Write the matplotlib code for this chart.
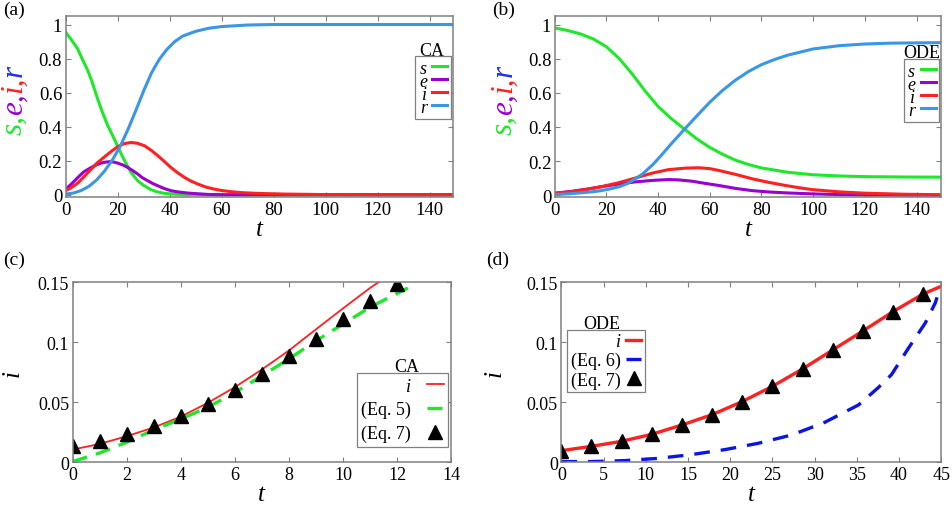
import matplotlib
matplotlib.use("Agg")
import matplotlib.pyplot as plt

plt.rcParams["font.family"] = ["Liberation Serif", "DejaVu Serif"]

# colours
c_s = "#1fe82a"
c_e = "#9a00d0"
c_i = "#ff2020"
c_r = "#3a96e6"
c_eq6 = "#0a14e6"
grey = "#808080"

# (a) CA model
sa_t = [0, 2, 4.6, 6, 8.5, 10, 12.3, 14, 16.2, 18, 20, 22, 23.9, 25, 27.7, 30, 32.8, 35, 38, 42, 46, 150]
sa_v = [.955, .915, .857, .81, .73, .67, .563, .49, .406, .35, .285, .22, .165, .135, .082, .055, .03, .018, .008, .003, 0, 0]
ea_t = [0, 2, 4.6, 7, 9.8, 12, 13.6, 15.5, 16.8, 18.5, 20, 22, 23.9, 25.8, 27.7, 29.5, 31.6, 33.5, 35.4, 38, 40.5, 43, 46.9, 54.6, 60, 150]
ea_v = [.033, .06, .10, .135, .16, .177, .186, .192, .194, .192, .186, .175, .16, .142, .122, .10, .082, .066, .053, .036, .024, .017, .01, .002, 0, 0]
ia_t = [0, 2, 4.6, 7, 9.8, 12, 14.9, 17.5, 20, 22.5, 25.1, 27.5, 30.3, 33, 35.4, 38, 40.5, 43, 45.7, 48, 50.8, 54, 57.2, 60, 63.6, 68, 73.9, 84, 100, 150]
ia_v = [.024, .04, .068, .105, .15, .185, .222, .254, .282, .3, .307, .303, .288, .26, .23, .195, .16, .13, .102, .082, .063, .045, .033, .025, .018, .012, .008, .004, .001, 0]
ra_t = [0, 3, 6, 9, 12, 15, 18, 21, 24, 27, 30, 33, 36, 39, 42, 45, 50, 55, 60, 70, 80, 150]
ra_v = [.004, .01, .025, .05, .088, .14, .205, .285, .385, .495, .61, .715, .795, .855, .9, .932, .96, .978, .988, .997, 1.0, 1.0]

# (b) ODE model
sb_t = [0, 5, 10, 15, 20, 25, 30, 35, 40, 45, 50, 55, 60, 65, 70, 75, 80, 90, 100, 110, 120, 135, 150]
sb_v = [.98, .965, .945, .915, .87, .80, .71, .61, .52, .45, .39, .33, .28, .24, .205, .18, .16, .135, .12, .113, .109, .107, .106]
eb_t = [0, 6, 12, 18, 24.9, 31, 37.8, 44.2, 48, 53.3, 58, 63.6, 70, 76.5, 83, 89.4, 99.7, 110, 120, 135, 150]
eb_v = [.012, .022, .035, .05, .066, .078, .087, .092, .09, .082, .07, .057, .04, .027, .019, .014, .008, .004, .002, .001, 0]
ib_t = [0, 6, 12, 18, 24.9, 31, 37.8, 44, 50.7, 55.8, 60, 63.6, 70, 76.5, 83, 89.4, 95, 99.7, 110, 120, 135, 150]
ib_v = [.012, .02, .033, .05, .074, .10, .13, .15, .159, .161, .156, .145, .122, .096, .075, .057, .043, .033, .02, .012, .006, .003]
rb_t = [0, 5, 10, 15, 18, 21, 25, 28, 31, 34, 38, 41, 45, 48, 51, 55, 60, 65, 70, 75, 80, 85, 90, 100, 110, 120, 130, 150]
rb_v = [.004, .008, .014, .021, .027, .036, .05, .068, .094, .125, .18, .23, .30, .35, .40, .465, .545, .615, .675, .725, .765, .795, .82, .857, .876, .886, .891, .894]

# (c) early CA growth
ic_t = [0, 1, 2, 3, 4, 5, 6, 7, 8, 9, 10, 11, 11.33]
ic_v = [.0106, .0153, .0217, .029, .038, .0494, .0625, .0772, .093, .1106, .128, .145, .15]
eq5_t = [0, 1, 2, 3, 4, 5, 6, 7, 8, 9, 10, 11, 12.4]
eq5_v = [.0006, .0078, .0167, .027, .036, .0458, .058, .072, .086, .101, .115, .129, .145]
eq7c_t = [0, 1, 2, 3, 4, 5, 6, 7, 8, 9, 10, 11, 12]
eq7c_v = [.0139, .0175, .0236, .0303, .0389, .0483, .0603, .0736, .0881, .1028, .1189, .1339, .1486]

# (d) early ODE growth
eq7d_t = [0, 3.57, 7.14, 10.71, 14.29, 17.86, 21.43, 25, 28.57, 32.14, 35.71, 39.29, 42.86]
eq7d_v = [.0097, .0133, .0175, .0233, .0311, .0397, .0506, .0633, .0778, .0936, .1094, .1256, .1403]
id_t = [0, 3.57, 7.14, 10.71, 14.29, 17.86, 21.43, 25, 28.57, 32.14, 35.71, 39.29, 42.86, 45]
id_v = [.0097, .0133, .0175, .0233, .0311, .0397, .0506, .0633, .0778, .0936, .1094, .1256, .1403, .1467]
eq6_t = [0, 3.6, 7.5, 11.5, 15.4, 19.4, 23.3, 27.3, 31.2, 35.2, 37.5, 39.1, 41.1, 43.1, 44.3, 44.5]
eq6_v = [.0006, .0006, .0014, .0033, .0064, .0106, .0158, .0228, .0333, .0478, .062, .073, .095, .116, .133, .1375]

fig = plt.figure(figsize=(9.53, 5.06), dpi=100)
ax_a = fig.add_axes([0.0689, 0.6081, 0.4064, 0.3583])
ax_b = fig.add_axes([0.5821, 0.6081, 0.4054, 0.3583])
ax_c = fig.add_axes([0.0763, 0.0844, 0.3970, 0.3563])
ax_d = fig.add_axes([0.5890, 0.0844, 0.3987, 0.3557])


def style(ax, xticks, yticks, ylabels, size):
    for sp in ax.spines.values():
        sp.set_color(grey)
        sp.set_linewidth(1.1)
    ax.tick_params(direction="in", top=True, right=True, length=3.5, width=0.8,
                   color=grey, labelsize=size, pad=2.5)
    ax.set_xticks(xticks)
    ax.set_yticks(yticks)
    ax.set_yticklabels(ylabels)
    ax.set_xlabel("t", fontsize=18, fontstyle="italic", labelpad=0)


def legend(ax, anchor, title, title_xy, **kw):
    leg = ax.legend(loc="upper right", bbox_to_anchor=anchor, markerfirst=False,
                    fancybox=False, borderaxespad=0, framealpha=1, **kw)
    leg.get_frame().set_edgecolor(grey)
    leg.get_frame().set_linewidth(0.9)
    ax.text(title_xy[0], title_xy[1], title, transform=ax.transAxes,
            ha="center", va="baseline", fontsize=13)
    return leg


def i_label(ax, xfrac):
    ax.set_ylabel("i", fontsize=18, fontstyle="italic",
                  rotation_mode="default", ha="center", va="center")
    ax.yaxis.set_label_coords(xfrac, 0.5)


# (a)
lw = 2.2
ax_a.plot(sa_t, sa_v, color=c_s, lw=lw, label="s")
ax_a.plot(ea_t, ea_v, color=c_e, lw=lw, label="e")
ax_a.plot(ia_t, ia_v, color=c_i, lw=lw, label="i")
ax_a.plot(ra_t, ra_v, color=c_r, lw=lw, label="r")
ax_a.set_xlim(0, 149)
ax_a.set_ylim(-0.015, 1.05)
style(ax_a, range(0, 141, 20), [0, .2, .4, .6, .8, 1], ["0", "0.2", "0.4", "0.6", "0.8", "1"], 13.5)
legend(ax_a, (0.995, 0.779), "CA", (0.945, 0.785),
       prop={"style": "italic", "size": 13}, handlelength=0.83, handletextpad=0.3,
       labelspacing=-0.22, borderpad=0.2)

# (b)
ax_b.plot(sb_t, sb_v, color=c_s, lw=lw, label="s")
ax_b.plot(eb_t, eb_v, color=c_e, lw=lw, label="e")
ax_b.plot(ib_t, ib_v, color=c_i, lw=lw, label="i")
ax_b.plot(rb_t, rb_v, color=c_r, lw=lw, label="r")
ax_b.set_xlim(0, 149.5)
ax_b.set_ylim(-0.012, 1.05)
style(ax_b, range(0, 141, 20), [0, .2, .4, .6, .8, 1], ["0", "0.2", "0.4", "0.6", "0.8", "1"], 13.5)
legend(ax_b, (0.995, 0.763), "ODE", (0.949, 0.774),
       prop={"style": "italic", "size": 13}, handlelength=0.83, handletextpad=0.3,
       labelspacing=-0.22, borderpad=0.2)

# (c)
ax_c.plot(ic_t, ic_v, color=c_i, lw=1.3, label="i")
ax_c.plot(eq5_t, eq5_v, color=c_s, lw=2.4, dashes=(4.5, 2.8), label="(Eq. 5)")
ax_c.plot(eq7c_t, eq7c_v, ls="none", marker="^", ms=9.5, color="black", label="(Eq. 7)")
ax_c.set_xlim(0, 14)
ax_c.set_ylim(0, 0.15)
style(ax_c, range(0, 15, 2), [0, .05, .1, .15], ["0", "0.05", "0.1", "0.15"], 13)
i_label(ax_c, -0.159)
leg = legend(ax_c, (0.992, 0.495), "CA", (0.883, 0.508),
             prop={"size": 13}, handlelength=0.9, handletextpad=0.9,
             labelspacing=0.36, borderpad=0.25, numpoints=1)
leg.get_texts()[0].set_fontstyle("italic")

# (d)
ax_d.plot(id_t, id_v, color=c_i, lw=2.4, label="i")
ax_d.plot(eq6_t, eq6_v, color=c_eq6, lw=2.4, dashes=(4.7, 3.3), label="(Eq. 6)")
ax_d.plot(eq7d_t, eq7d_v, ls="none", marker="^", ms=9.5, color="black", label="(Eq. 7)")
ax_d.set_xlim(0, 45)
ax_d.set_ylim(0, 0.15)
style(ax_d, range(0, 46, 5), [0, .05, .1, .15], ["0", "0.05", "0.1", "0.15"], 13)
i_label(ax_d, -0.176)
leg = legend(ax_d, (0.219, 0.737), "ODE", (0.107, 0.744),
             prop={"size": 13}, handlelength=0.85, handletextpad=0.3,
             labelspacing=0.12, borderpad=0.18, numpoints=1)
leg.get_texts()[0].set_fontstyle("italic")

# panel letters
for lab, x, y in [("(a)", 3, 2), ("(b)", 492, 2), ("(c)", 3, 252), ("(d)", 486, 252)]:
    fig.text(x / 953, 1 - y / 506, lab, ha="left", va="top", fontsize=14)

# multicoloured y labels s,e,i,r
fig.canvas.draw()
renderer = fig.canvas.get_renderer()
pieces = [("s,", c_s), ("e,", c_e), ("i,", c_i), ("r", "#2030f0")]
for xc in (14, 504):
    texts = [fig.text(0, 0, p, rotation=90, ha="center", va="bottom", color=c,
                      fontsize=22.5, fontstyle="italic") for p, c in pieces]
    hs = [t.get_window_extent(renderer).height for t in texts]
    y = (506 - 100) - sum(hs) / 2
    for t, h in zip(texts, hs):
        t.set_position((xc / 953, y / 506))
        y += h

fig.savefig("out.png", dpi=100)
